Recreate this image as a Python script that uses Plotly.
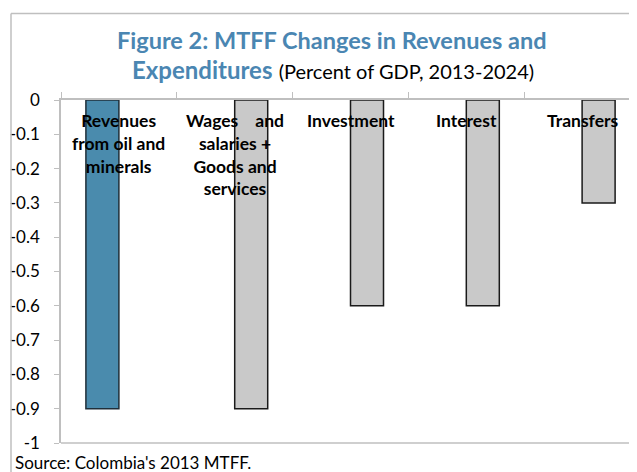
import plotly.graph_objects as go

categories = ["Revenues", "Wages and salaries + Goods and services", "Investment", "Interest", "Transfers"]
cat_labels = ["Revenues<br>from oil and<br>minerals", "Wages    and<br>salaries +<br>Goods and<br>services",
              "Investment", "Interest", "Transfers"]
revenues = [-0.9, None, None, None, None]
expenditures = [None, -0.9, -0.6, -0.6, -0.3]
y_ticks = [0, -0.1, -0.2, -0.3, -0.4, -0.5, -0.6, -0.7, -0.8, -0.9, -1]
y_tick_text = ["0", "-0.1", "-0.2", "-0.3", "-0.4", "-0.5", "-0.6", "-0.7", "-0.8", "-0.9", "-1"]

FONT = "Lato, Carlito, Liberation Sans"
OFF = 8  # page body margin
W, H = 637 - OFF, 472 - OFF
ML, MR, MT, MB = 61 - OFF, 0, 100 - OFF, 472 - 443
pw = W - ML - MR
ph = H - MT - MB

def px_x(x):
    return (x - OFF - ML) / pw

def px_y(y):
    return (H - MB - (y - OFF)) / ph

fig = go.Figure()
fig.add_trace(go.Bar(x=categories, y=revenues, name="Revenues",
                     marker=dict(color="#4A8BAD", line=dict(color="#1F2F3A", width=1.5))))
fig.add_trace(go.Bar(x=categories, y=expenditures, name="Expenditures",
                     marker=dict(color="#C9C9C9", line=dict(color="#1A1A1A", width=1.5))))

for c, lab in zip(categories, cat_labels):
    fig.add_annotation(x=c, y=0, xref="x", yref="y", text="<b>" + lab + "</b>",
                       showarrow=False, yanchor="top", xanchor="center", yshift=-8,
                       font=dict(family=FONT, size=17.5, color="#000000"), align="center")

fig.add_annotation(x=px_x(332), y=px_y(40), xref="paper", yref="paper",
                   text="<b>Figure 2: MTFF Changes in Revenues and</b>", showarrow=False,
                   xanchor="center", yanchor="middle",
                   font=dict(family=FONT, size=23.5, color="#4A86B2"))
fig.add_annotation(x=px_x(333), y=px_y(70), xref="paper", yref="paper",
                   text="<b>Expenditures</b> <span style='color:#000000;font-size:20px'>(Percent of GDP, 2013-2024)</span>",
                   showarrow=False, xanchor="center", yanchor="middle",
                   font=dict(family=FONT, size=24, color="#4A86B2"))
fig.add_annotation(x=px_x(13), y=px_y(462), xref="paper", yref="paper",
                   text="Source: Colombia's 2013 MTFF.", showarrow=False,
                   xanchor="left", yanchor="middle",
                   font=dict(family=FONT, size=17, color="#000000"))

# outer chart border
fig.add_shape(type="line", xref="paper", yref="paper", x0=px_x(11), x1=px_x(660),
              y0=px_y(13.5), y1=px_y(13.5), line=dict(color="#BFBFBF", width=1.5))
fig.add_shape(type="line", xref="paper", yref="paper", x0=px_x(11), x1=px_x(11),
              y0=px_y(13.5), y1=px_y(490), line=dict(color="#BFBFBF", width=1.5))
# bottom plot line
fig.add_shape(type="line", xref="paper", yref="paper", x0=0, x1=1, y0=0, y1=0,
              line=dict(color="#BFBFBF", width=1.5))

fig.update_layout(
    width=W, height=H, margin=dict(l=ML, r=MR, t=MT, b=MB),
    paper_bgcolor="white", plot_bgcolor="white", showlegend=False,
    barmode="group", bargap=0.43, bargroupgap=0,
    font=dict(family=FONT, size=15, color="#000000"),
)
fig.update_xaxes(side="top", range=[-0.5, 4.474], showticklabels=False,
                 showline=True, linecolor="#BFBFBF", linewidth=1.5,
                 ticks="outside", ticklen=6, tickcolor="#BFBFBF", tickson="boundaries",
                 showgrid=False, zeroline=False)
fig.update_yaxes(range=[-1, 0], tickvals=y_ticks, ticktext=y_tick_text,
                 showline=True, linecolor="#BFBFBF", linewidth=1.5,
                 ticks="outside", ticklen=5, tickcolor="#BFBFBF",
                 ticklabelstandoff=11,
                 showgrid=False, zeroline=False,
                 tickfont=dict(family=FONT, size=17, color="#000000"))

fig.write_html("out.html")
